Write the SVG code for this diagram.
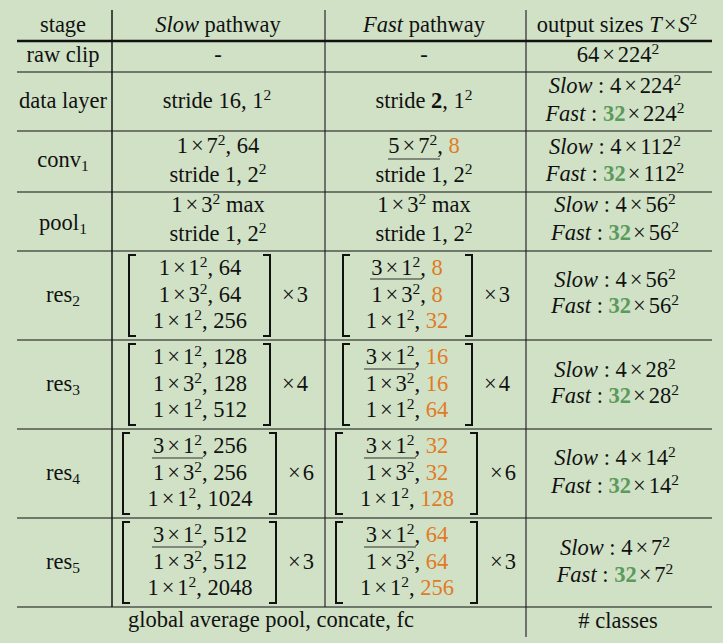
<svg xmlns="http://www.w3.org/2000/svg" width="723" height="643" viewBox="0 0 723 643">
<defs>
<path id="lb" d="M7,0H0V81H7" fill="none" stroke="#111" stroke-width="2"/>
<path id="rb" d="M-7,0H0V81H-7" fill="none" stroke="#111" stroke-width="2"/>
</defs>
<rect width="723" height="643" fill="#d0e1c6"/>
<line x1="112" y1="10" x2="112" y2="607" stroke="#222" stroke-width="1.6"/>
<line x1="325" y1="10" x2="325" y2="607" stroke="#555" stroke-width="1.6"/>
<line x1="526" y1="10" x2="526" y2="637" stroke="#555" stroke-width="1.6"/>
<line x1="17" y1="41" x2="712" y2="41" stroke="#111" stroke-width="2.6"/>
<line x1="17" y1="72" x2="712" y2="72" stroke="#111" stroke-width="1.2"/>
<line x1="17" y1="131" x2="712" y2="131" stroke="#111" stroke-width="1.2"/>
<line x1="17" y1="192" x2="712" y2="192" stroke="#111" stroke-width="1.2"/>
<line x1="17" y1="251" x2="712" y2="251" stroke="#111" stroke-width="1.2"/>
<line x1="17" y1="340" x2="712" y2="340" stroke="#111" stroke-width="1.2"/>
<line x1="17" y1="429" x2="712" y2="429" stroke="#111" stroke-width="1.2"/>
<line x1="17" y1="518" x2="712" y2="518" stroke="#111" stroke-width="1.2"/>
<line x1="17" y1="607" x2="712" y2="607" stroke="#111" stroke-width="1.2"/>
<use href="#lb" x="129" y="255"/><use href="#rb" x="270" y="255"/>
<use href="#lb" x="343" y="255"/><use href="#rb" x="472" y="255"/>
<use href="#lb" x="129" y="344"/><use href="#rb" x="270" y="344"/>
<use href="#lb" x="343" y="344"/><use href="#rb" x="472" y="344"/>
<use href="#lb" x="123" y="433"/><use href="#rb" x="276" y="433"/>
<use href="#lb" x="336" y="433"/><use href="#rb" x="477" y="433"/>
<use href="#lb" x="123" y="522"/><use href="#rb" x="276" y="522"/>
<use href="#lb" x="336" y="522"/><use href="#rb" x="477" y="522"/>
<line x1="388" y1="159" x2="440" y2="159" stroke="#333" stroke-width="1.2"/>
<line x1="370" y1="279" x2="422" y2="279" stroke="#333" stroke-width="1.2"/>
<line x1="364" y1="369" x2="416" y2="369" stroke="#333" stroke-width="1.2"/>
<line x1="152" y1="458" x2="203" y2="458" stroke="#333" stroke-width="1.2"/>
<line x1="364" y1="458" x2="416" y2="458" stroke="#333" stroke-width="1.2"/>
<line x1="152" y1="547" x2="203" y2="547" stroke="#333" stroke-width="1.2"/>
<line x1="364" y1="547" x2="416" y2="547" stroke="#333" stroke-width="1.2"/>
<text font-family="Liberation Serif" font-size="22.5" text-anchor="middle" fill="#111" x="63" y="32">stage</text>
<text font-family="Liberation Serif" font-size="22.5" text-anchor="middle" fill="#111" x="218" y="32"><tspan font-style="italic">Slow</tspan> pathway</text>
<text font-family="Liberation Serif" font-size="22.5" text-anchor="middle" fill="#111" x="424" y="32"><tspan font-style="italic">Fast</tspan> pathway</text>
<text font-family="Liberation Serif" font-size="22.5" text-anchor="middle" fill="#111" x="617" y="32">output sizes <tspan font-style="italic">T</tspan><tspan dx="2">×</tspan><tspan dx="2" font-style="italic">S</tspan><tspan font-size="15.5" dy="-8">2</tspan></text>
<text font-family="Liberation Serif" font-size="22.5" text-anchor="middle" fill="#111" x="63" y="62">raw clip</text>
<text font-family="Liberation Serif" font-size="22.5" text-anchor="middle" fill="#111" x="218" y="62">-</text>
<text font-family="Liberation Serif" font-size="22.5" text-anchor="middle" fill="#111" x="424" y="62">-</text>
<text font-family="Liberation Serif" font-size="22.5" text-anchor="middle" fill="#111" x="618" y="62">64<tspan dx="3">×</tspan><tspan dx="3">224</tspan><tspan font-size="15.5" dy="-8">2</tspan></text>
<text font-family="Liberation Serif" font-size="22.5" text-anchor="middle" fill="#111" x="63" y="108">data layer</text>
<text font-family="Liberation Serif" font-size="22.5" text-anchor="middle" fill="#111" x="217" y="108">stride 16, 1<tspan font-size="15.5" dy="-8">2</tspan></text>
<text font-family="Liberation Serif" font-size="22.5" text-anchor="middle" fill="#111" x="424" y="108">stride <tspan font-weight="bold">2</tspan>, 1<tspan font-size="15.5" dy="-8">2</tspan></text>
<text font-family="Liberation Serif" font-size="22.5" text-anchor="middle" fill="#111" x="615" y="93"><tspan font-style="italic">Slow</tspan> : 4<tspan dx="3">×</tspan><tspan dx="3">224</tspan><tspan font-size="15.5" dy="-8">2</tspan></text>
<text font-family="Liberation Serif" font-size="22.5" text-anchor="middle" fill="#111" x="615" y="121"><tspan font-style="italic">Fast</tspan> : <tspan fill="#5a9a5c" font-weight="bold">32</tspan><tspan dx="2">×</tspan><tspan dx="3">224</tspan><tspan font-size="15.5" dy="-8">2</tspan></text>
<text font-family="Liberation Serif" font-size="22.5" text-anchor="middle" fill="#111" x="63" y="167">conv<tspan font-size="15.5" dy="4">1</tspan></text>
<text font-family="Liberation Serif" font-size="22.5" text-anchor="middle" fill="#111" x="218" y="153">1<tspan dx="3">×</tspan><tspan dx="3">7</tspan><tspan font-size="15.5" dy="-8">2</tspan><tspan dy="8">, 64</tspan></text>
<text font-family="Liberation Serif" font-size="22.5" text-anchor="middle" fill="#111" x="218" y="182">stride 1, 2<tspan font-size="15.5" dy="-8">2</tspan></text>
<text font-family="Liberation Serif" font-size="22.5" text-anchor="middle" fill="#111" x="424" y="153">5<tspan dx="3">×</tspan><tspan dx="3">7</tspan><tspan font-size="15.5" dy="-8">2</tspan><tspan dy="8">, </tspan><tspan fill="#e07b24">8</tspan></text>
<text font-family="Liberation Serif" font-size="22.5" text-anchor="middle" fill="#111" x="424" y="182">stride 1, 2<tspan font-size="15.5" dy="-8">2</tspan></text>
<text font-family="Liberation Serif" font-size="22.5" text-anchor="middle" fill="#111" x="615" y="154"><tspan font-style="italic">Slow</tspan> : 4<tspan dx="3">×</tspan><tspan dx="3">112</tspan><tspan font-size="15.5" dy="-8">2</tspan></text>
<text font-family="Liberation Serif" font-size="22.5" text-anchor="middle" fill="#111" x="615" y="181"><tspan font-style="italic">Fast</tspan> : <tspan fill="#5a9a5c" font-weight="bold">32</tspan><tspan dx="2">×</tspan><tspan dx="3">112</tspan><tspan font-size="15.5" dy="-8">2</tspan></text>
<text font-family="Liberation Serif" font-size="22.5" text-anchor="middle" fill="#111" x="63" y="230">pool<tspan font-size="15.5" dy="4">1</tspan></text>
<text font-family="Liberation Serif" font-size="22.5" text-anchor="middle" fill="#111" x="218" y="212">1<tspan dx="3">×</tspan><tspan dx="3">3</tspan><tspan font-size="15.5" dy="-8">2</tspan><tspan dy="8"> max</tspan></text>
<text font-family="Liberation Serif" font-size="22.5" text-anchor="middle" fill="#111" x="218" y="241">stride 1, 2<tspan font-size="15.5" dy="-8">2</tspan></text>
<text font-family="Liberation Serif" font-size="22.5" text-anchor="middle" fill="#111" x="424" y="212">1<tspan dx="3">×</tspan><tspan dx="3">3</tspan><tspan font-size="15.5" dy="-8">2</tspan><tspan dy="8"> max</tspan></text>
<text font-family="Liberation Serif" font-size="22.5" text-anchor="middle" fill="#111" x="424" y="241">stride 1, 2<tspan font-size="15.5" dy="-8">2</tspan></text>
<text font-family="Liberation Serif" font-size="22.5" text-anchor="middle" fill="#111" x="615" y="212"><tspan font-style="italic">Slow</tspan> : 4<tspan dx="3">×</tspan><tspan dx="3">56</tspan><tspan font-size="15.5" dy="-8">2</tspan></text>
<text font-family="Liberation Serif" font-size="22.5" text-anchor="middle" fill="#111" x="615" y="240"><tspan font-style="italic">Fast</tspan> : <tspan fill="#5a9a5c" font-weight="bold">32</tspan><tspan dx="2">×</tspan><tspan dx="3">56</tspan><tspan font-size="15.5" dy="-8">2</tspan></text>
<text font-family="Liberation Serif" font-size="22.5" text-anchor="middle" fill="#111" x="63" y="302">res<tspan font-size="15.5" dy="4">2</tspan></text>
<text font-family="Liberation Serif" font-size="22.5" text-anchor="middle" fill="#111" x="200" y="275">1<tspan dx="3">×</tspan><tspan dx="3">1</tspan><tspan font-size="15.5" dy="-8">2</tspan><tspan dy="8">, 64</tspan></text>
<text font-family="Liberation Serif" font-size="22.5" text-anchor="middle" fill="#111" x="200" y="302">1<tspan dx="3">×</tspan><tspan dx="3">3</tspan><tspan font-size="15.5" dy="-8">2</tspan><tspan dy="8">, 64</tspan></text>
<text font-family="Liberation Serif" font-size="22.5" text-anchor="middle" fill="#111" x="200" y="328">1<tspan dx="3">×</tspan><tspan dx="3">1</tspan><tspan font-size="15.5" dy="-8">2</tspan><tspan dy="8">, 256</tspan></text>
<text font-family="Liberation Serif" font-size="22.5" text-anchor="middle" fill="#111" x="295" y="302">×<tspan dx="2">3</tspan></text>
<text font-family="Liberation Serif" font-size="22.5" text-anchor="middle" fill="#111" x="407" y="275">3<tspan dx="3">×</tspan><tspan dx="3">1</tspan><tspan font-size="15.5" dy="-8">2</tspan><tspan dy="8">, </tspan><tspan fill="#e07b24">8</tspan></text>
<text font-family="Liberation Serif" font-size="22.5" text-anchor="middle" fill="#111" x="407" y="302">1<tspan dx="3">×</tspan><tspan dx="3">3</tspan><tspan font-size="15.5" dy="-8">2</tspan><tspan dy="8">, </tspan><tspan fill="#e07b24">8</tspan></text>
<text font-family="Liberation Serif" font-size="22.5" text-anchor="middle" fill="#111" x="407" y="328">1<tspan dx="3">×</tspan><tspan dx="3">1</tspan><tspan font-size="15.5" dy="-8">2</tspan><tspan dy="8">, </tspan><tspan fill="#e07b24">32</tspan></text>
<text font-family="Liberation Serif" font-size="22.5" text-anchor="middle" fill="#111" x="497" y="302">×<tspan dx="2">3</tspan></text>
<text font-family="Liberation Serif" font-size="22.5" text-anchor="middle" fill="#111" x="615" y="287"><tspan font-style="italic">Slow</tspan> : 4<tspan dx="3">×</tspan><tspan dx="3">56</tspan><tspan font-size="15.5" dy="-8">2</tspan></text>
<text font-family="Liberation Serif" font-size="22.5" text-anchor="middle" fill="#111" x="615" y="313"><tspan font-style="italic">Fast</tspan> : <tspan fill="#5a9a5c" font-weight="bold">32</tspan><tspan dx="2">×</tspan><tspan dx="3">56</tspan><tspan font-size="15.5" dy="-8">2</tspan></text>
<text font-family="Liberation Serif" font-size="22.5" text-anchor="middle" fill="#111" x="63" y="391">res<tspan font-size="15.5" dy="4">3</tspan></text>
<text font-family="Liberation Serif" font-size="22.5" text-anchor="middle" fill="#111" x="200" y="364">1<tspan dx="3">×</tspan><tspan dx="3">1</tspan><tspan font-size="15.5" dy="-8">2</tspan><tspan dy="8">, 128</tspan></text>
<text font-family="Liberation Serif" font-size="22.5" text-anchor="middle" fill="#111" x="200" y="391">1<tspan dx="3">×</tspan><tspan dx="3">3</tspan><tspan font-size="15.5" dy="-8">2</tspan><tspan dy="8">, 128</tspan></text>
<text font-family="Liberation Serif" font-size="22.5" text-anchor="middle" fill="#111" x="200" y="417">1<tspan dx="3">×</tspan><tspan dx="3">1</tspan><tspan font-size="15.5" dy="-8">2</tspan><tspan dy="8">, 512</tspan></text>
<text font-family="Liberation Serif" font-size="22.5" text-anchor="middle" fill="#111" x="295" y="391">×<tspan dx="2">4</tspan></text>
<text font-family="Liberation Serif" font-size="22.5" text-anchor="middle" fill="#111" x="407" y="364">3<tspan dx="3">×</tspan><tspan dx="3">1</tspan><tspan font-size="15.5" dy="-8">2</tspan><tspan dy="8">, </tspan><tspan fill="#e07b24">16</tspan></text>
<text font-family="Liberation Serif" font-size="22.5" text-anchor="middle" fill="#111" x="407" y="391">1<tspan dx="3">×</tspan><tspan dx="3">3</tspan><tspan font-size="15.5" dy="-8">2</tspan><tspan dy="8">, </tspan><tspan fill="#e07b24">16</tspan></text>
<text font-family="Liberation Serif" font-size="22.5" text-anchor="middle" fill="#111" x="407" y="417">1<tspan dx="3">×</tspan><tspan dx="3">1</tspan><tspan font-size="15.5" dy="-8">2</tspan><tspan dy="8">, </tspan><tspan fill="#e07b24">64</tspan></text>
<text font-family="Liberation Serif" font-size="22.5" text-anchor="middle" fill="#111" x="497" y="391">×<tspan dx="2">4</tspan></text>
<text font-family="Liberation Serif" font-size="22.5" text-anchor="middle" fill="#111" x="615" y="377"><tspan font-style="italic">Slow</tspan> : 4<tspan dx="3">×</tspan><tspan dx="3">28</tspan><tspan font-size="15.5" dy="-8">2</tspan></text>
<text font-family="Liberation Serif" font-size="22.5" text-anchor="middle" fill="#111" x="615" y="403"><tspan font-style="italic">Fast</tspan> : <tspan fill="#5a9a5c" font-weight="bold">32</tspan><tspan dx="2">×</tspan><tspan dx="3">28</tspan><tspan font-size="15.5" dy="-8">2</tspan></text>
<text font-family="Liberation Serif" font-size="22.5" text-anchor="middle" fill="#111" x="63" y="480">res<tspan font-size="15.5" dy="4">4</tspan></text>
<text font-family="Liberation Serif" font-size="22.5" text-anchor="middle" fill="#111" x="200" y="453">3<tspan dx="3">×</tspan><tspan dx="3">1</tspan><tspan font-size="15.5" dy="-8">2</tspan><tspan dy="8">, 256</tspan></text>
<text font-family="Liberation Serif" font-size="22.5" text-anchor="middle" fill="#111" x="200" y="480">1<tspan dx="3">×</tspan><tspan dx="3">3</tspan><tspan font-size="15.5" dy="-8">2</tspan><tspan dy="8">, 256</tspan></text>
<text font-family="Liberation Serif" font-size="22.5" text-anchor="middle" fill="#111" x="200" y="506">1<tspan dx="3">×</tspan><tspan dx="3">1</tspan><tspan font-size="15.5" dy="-8">2</tspan><tspan dy="8">, 1024</tspan></text>
<text font-family="Liberation Serif" font-size="22.5" text-anchor="middle" fill="#111" x="301" y="480">×<tspan dx="2">6</tspan></text>
<text font-family="Liberation Serif" font-size="22.5" text-anchor="middle" fill="#111" x="407" y="453">3<tspan dx="3">×</tspan><tspan dx="3">1</tspan><tspan font-size="15.5" dy="-8">2</tspan><tspan dy="8">, </tspan><tspan fill="#e07b24">32</tspan></text>
<text font-family="Liberation Serif" font-size="22.5" text-anchor="middle" fill="#111" x="407" y="480">1<tspan dx="3">×</tspan><tspan dx="3">3</tspan><tspan font-size="15.5" dy="-8">2</tspan><tspan dy="8">, </tspan><tspan fill="#e07b24">32</tspan></text>
<text font-family="Liberation Serif" font-size="22.5" text-anchor="middle" fill="#111" x="407" y="506">1<tspan dx="3">×</tspan><tspan dx="3">1</tspan><tspan font-size="15.5" dy="-8">2</tspan><tspan dy="8">, </tspan><tspan fill="#e07b24">128</tspan></text>
<text font-family="Liberation Serif" font-size="22.5" text-anchor="middle" fill="#111" x="503" y="480">×<tspan dx="2">6</tspan></text>
<text font-family="Liberation Serif" font-size="22.5" text-anchor="middle" fill="#111" x="615" y="465"><tspan font-style="italic">Slow</tspan> : 4<tspan dx="3">×</tspan><tspan dx="3">14</tspan><tspan font-size="15.5" dy="-8">2</tspan></text>
<text font-family="Liberation Serif" font-size="22.5" text-anchor="middle" fill="#111" x="615" y="493"><tspan font-style="italic">Fast</tspan> : <tspan fill="#5a9a5c" font-weight="bold">32</tspan><tspan dx="2">×</tspan><tspan dx="3">14</tspan><tspan font-size="15.5" dy="-8">2</tspan></text>
<text font-family="Liberation Serif" font-size="22.5" text-anchor="middle" fill="#111" x="63" y="569">res<tspan font-size="15.5" dy="4">5</tspan></text>
<text font-family="Liberation Serif" font-size="22.5" text-anchor="middle" fill="#111" x="200" y="542">3<tspan dx="3">×</tspan><tspan dx="3">1</tspan><tspan font-size="15.5" dy="-8">2</tspan><tspan dy="8">, 512</tspan></text>
<text font-family="Liberation Serif" font-size="22.5" text-anchor="middle" fill="#111" x="200" y="569">1<tspan dx="3">×</tspan><tspan dx="3">3</tspan><tspan font-size="15.5" dy="-8">2</tspan><tspan dy="8">, 512</tspan></text>
<text font-family="Liberation Serif" font-size="22.5" text-anchor="middle" fill="#111" x="200" y="595">1<tspan dx="3">×</tspan><tspan dx="3">1</tspan><tspan font-size="15.5" dy="-8">2</tspan><tspan dy="8">, 2048</tspan></text>
<text font-family="Liberation Serif" font-size="22.5" text-anchor="middle" fill="#111" x="301" y="569">×<tspan dx="2">3</tspan></text>
<text font-family="Liberation Serif" font-size="22.5" text-anchor="middle" fill="#111" x="407" y="542">3<tspan dx="3">×</tspan><tspan dx="3">1</tspan><tspan font-size="15.5" dy="-8">2</tspan><tspan dy="8">, </tspan><tspan fill="#e07b24">64</tspan></text>
<text font-family="Liberation Serif" font-size="22.5" text-anchor="middle" fill="#111" x="407" y="569">1<tspan dx="3">×</tspan><tspan dx="3">3</tspan><tspan font-size="15.5" dy="-8">2</tspan><tspan dy="8">, </tspan><tspan fill="#e07b24">64</tspan></text>
<text font-family="Liberation Serif" font-size="22.5" text-anchor="middle" fill="#111" x="407" y="595">1<tspan dx="3">×</tspan><tspan dx="3">1</tspan><tspan font-size="15.5" dy="-8">2</tspan><tspan dy="8">, </tspan><tspan fill="#e07b24">256</tspan></text>
<text font-family="Liberation Serif" font-size="22.5" text-anchor="middle" fill="#111" x="503" y="569">×<tspan dx="2">3</tspan></text>
<text font-family="Liberation Serif" font-size="22.5" text-anchor="middle" fill="#111" x="615" y="555"><tspan font-style="italic">Slow</tspan> : 4<tspan dx="3">×</tspan><tspan dx="3">7</tspan><tspan font-size="15.5" dy="-8">2</tspan></text>
<text font-family="Liberation Serif" font-size="22.5" text-anchor="middle" fill="#111" x="615" y="582"><tspan font-style="italic">Fast</tspan> : <tspan fill="#5a9a5c" font-weight="bold">32</tspan><tspan dx="2">×</tspan><tspan dx="3">7</tspan><tspan font-size="15.5" dy="-8">2</tspan></text>
<text font-family="Liberation Serif" font-size="22.5" text-anchor="middle" fill="#111" x="271" y="627">global average pool, concate, fc</text>
<text font-family="Liberation Serif" font-size="22.5" text-anchor="middle" fill="#111" x="618" y="628"># classes</text>
</svg>
